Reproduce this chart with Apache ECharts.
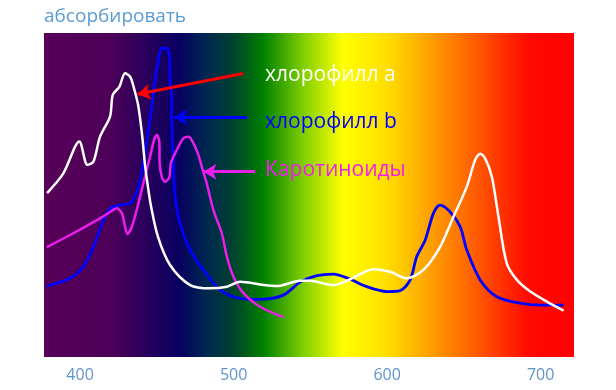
<!DOCTYPE html>
<html>
<head>
<meta charset="utf-8">
<script src="https://cdn.jsdelivr.net/npm/echarts@6/dist/echarts.min.js"></script>
<style>
html,body{margin:0;padding:0;background:#fff;}
#chart{width:616px;height:390px;}
</style>
</head>
<body>
<div id="chart"></div>
<script>
// ---- data ----
var titleText = 'абсорбировать';
var xTicks = [400, 500, 600, 700];

var chlA_nm  = [378.5,389.1,399.5,404.8,408.7,413.0,419.5,421.3,425.6,429.3,432.6,434.5,437.8,440.4,442.3,444.3,446.3,450.8,458.6,471.7,484.7,495.6,504.2,517.3,528.1,543.3,549.8,565.0,575.9,591.1,601.9,612.8,623.6,634.5,643.2,651.9,657.3,660.6,663.8,668.2,672.5,677.9,684.5,693.2,704.0,714.9];
var chlA_abs = [50.6,56.7,66.5,59.3,60.3,68.0,74.2,80.9,83.4,87.6,86.5,84.0,77.8,68.5,59.3,52.2,46.3,37.0,28.4,22.2,21.2,21.7,23.2,22.4,21.9,23.5,23.5,22.2,24.0,27.1,26.3,24.3,26.9,34.0,43.3,52.6,60.8,62.7,61.3,55.6,43.3,28.9,23.8,20.2,17.1,14.3];

var chlB_nm  = [378.3,393.5,402.1,408.7,415.2,419.5,426.1,432.6,435.8,438.0,441.2,444.5,446.7,448.9,451.0,453.2,456.5,458.2,458.6,459.7,459.7,460.8,461.9,465.1,471.7,480.3,491.2,504.2,517.3,532.4,543.3,554.2,565.0,575.9,586.8,599.8,608.5,615.0,619.3,624.8,630.2,634.5,641.0,647.6,651.9,660.6,671.5,686.6,699.7,714.9];
var chlB_abs = [21.9,24.3,27.9,34.0,42.3,45.9,46.9,47.4,49.7,52.6,59.8,70.1,77.3,85.5,91.7,95.3,95.3,92.7,85.5,80.3,74.2,59.8,49.5,41.3,33.0,26.9,20.7,18.1,17.8,19.1,23.1,25.1,25.6,24.0,21.7,20.2,20.5,23.8,31.0,36.1,44.4,46.9,44.8,40.2,33.0,23.8,18.6,16.6,16.0,16.0];

var car_nm  = [378.3,395.6,413.0,421.7,423.9,427.2,429.3,430.8,433.7,436.9,441.2,445.6,448.2,450.0,451.7,451.7,453.2,455.4,458.2,459.1,463.0,467.3,470.6,473.8,477.1,479.3,482.5,486.8,492.3,495.6,499.9,506.4,517.3,532.4];
var car_abs = [33.9,38.2,42.8,45.4,45.9,44.4,40.2,38.0,40.2,45.4,53.6,61.8,67.0,68.5,66.0,60.8,55.6,54.1,55.6,59.8,63.9,67.5,68.0,66.0,62.3,58.7,53.6,45.4,38.2,31.0,24.8,19.7,15.5,12.3];

var seriesNames = ['хлорофилл a', 'хлорофилл b', 'Каротиноиды'];
// arrows: [tail nm, tail abs, tip nm, tip abs]
var arrowA = [506.2, 87.5, 437.3, 81.1];
var arrowB = [508.6, 74.0, 461.2, 74.0];
var arrowC = [514.0, 57.2, 480.3, 57.2];
// label anchors [nm, abs]
var labelAnchors = [[520.5, 87.0], [520.5, 72.6], [520.5, 57.7]];

function pairs(xs, ys){ return xs.map(function(x,i){ return [x, ys[i]]; }); }

var FONT = '"Open Sans", "Noto Sans", sans-serif';
var chart = echarts.init(document.getElementById('chart'), null, {renderer:'canvas'});

var bg = new echarts.graphic.LinearGradient(0,0,1,0,[
  {offset:0, color:'#580058'},
  {offset:0.125, color:'#4c0058'},
  {offset:0.255, color:'#080060'},
  {offset:0.307, color:'#002850'},
  {offset:0.355, color:'#004030'},
  {offset:0.413, color:'#008000'},
  {offset:0.49, color:'#80d000'},
  {offset:0.564, color:'#ffff00'},
  {offset:0.649, color:'#ffdd00'},
  {offset:0.715, color:'#ffaa00'},
  {offset:0.78, color:'#ff7700'},
  {offset:0.847, color:'#ff4000'},
  {offset:0.913, color:'#ff0a00'},
  {offset:1, color:'#ff0000'}
]);

function arrowLine(a, color){
  return {
    silent:true,
    symbol:['none','arrow'],
    symbolSize:[12,13],
    label:{show:false},
    lineStyle:{color:color, width:3, type:'solid', opacity:1},
    emphasis:{disabled:true},
    animation:false,
    data:[[{coord:[a[0],a[1]]},{coord:[a[2],a[3]]}]]
  };
}

var option = {
  animation:false,
  title:{
    text:titleText, left:44, top:7, padding:0,
    textStyle:{color:'#5b9bd5', fontSize:19, fontWeight:'normal', fontFamily:FONT}
  },
  grid:{left:44, right:42, top:33, bottom:33, show:true, backgroundColor:bg, borderWidth:0},
  xAxis:{
    type:'value', min:376.5, max:721.7,
    axisLine:{show:false}, axisTick:{show:false}, splitLine:{show:false},
    axisLabel:{customValues:xTicks, color:'#5f93cc', fontSize:16, fontFamily:FONT, margin:10}
  },
  yAxis:{type:'value', min:0, max:100, show:false},
  series:[
    {
      name:seriesNames[0], type:'line', data:pairs(chlA_nm, chlA_abs),
      smooth:0.3, showSymbol:false, lineStyle:{color:'#ffffff', width:2.5}, z:3,
      markLine:arrowLine(arrowA, '#ff0000')
    },
    {
      name:seriesNames[1], type:'line', data:pairs(chlB_nm, chlB_abs),
      smooth:0.3, showSymbol:false, lineStyle:{color:'#0000ff', width:2.8}, z:2,
      markLine:arrowLine(arrowB, '#0000ff')
    },
    {
      name:seriesNames[2], type:'line', data:pairs(car_nm, car_abs),
      smooth:0.3, showSymbol:false, lineStyle:{color:'#ea1eea', width:2.5}, z:2,
      markLine:arrowLine(arrowC, '#ea1eea')
    },
    {
      type:'scatter', symbolSize:0, silent:true, z:5,
      itemStyle:{opacity:1},
      data: labelAnchors.map(function(p,i){
        var colors = ['#ffffff','#0000ff','#f01ef0'];
        return {value:p, itemStyle:{opacity:1}, label:{show:true, position:'right', distance:0, formatter:seriesNames[i],
          color:colors[i], opacity:1, fontSize:21, fontFamily:FONT}};
      })
    }
  ]
};
chart.setOption(option);
</script>
</body>
</html>
